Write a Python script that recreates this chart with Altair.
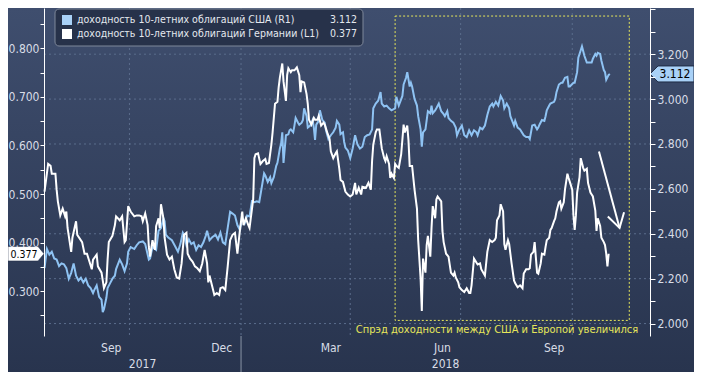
import altair as alt
import pandas as pd

# ---------------- data ----------------
us_name = "доходность 10-летних облигаций США (R1)"
de_name = "доходность 10-летних облигаций Германии (L1)"

us_dates = [
    "2017-07-23", "2017-07-25", "2017-07-27", "2017-07-29", "2017-07-31", "2017-08-02", "2017-08-04", "2017-08-06",
    "2017-08-08", "2017-08-10", "2017-08-12", "2017-08-14", "2017-08-16", "2017-08-18", "2017-08-20", "2017-08-22",
    "2017-08-24", "2017-08-26", "2017-08-28", "2017-08-30", "2017-09-01", "2017-09-02", "2017-09-04", "2017-09-06",
    "2017-09-08", "2017-09-09", "2017-09-10", "2017-09-12", "2017-09-13", "2017-09-15", "2017-09-17", "2017-09-19",
    "2017-09-20", "2017-09-23", "2017-09-25", "2017-09-27", "2017-09-29", "2017-09-30", "2017-10-02", "2017-10-05",
    "2017-10-07", "2017-10-09", "2017-10-12", "2017-10-14", "2017-10-17", "2017-10-18", "2017-10-20", "2017-10-23",
    "2017-10-25", "2017-10-27", "2017-10-29", "2017-10-30", "2017-10-31", "2017-11-02", "2017-11-05", "2017-11-08",
    "2017-11-10", "2017-11-12", "2017-11-14", "2017-11-15", "2017-11-17", "2017-11-19", "2017-11-21", "2017-11-23",
    "2017-11-25", "2017-11-27", "2017-11-29", "2017-12-01", "2017-12-03", "2017-12-04", "2017-12-06", "2017-12-08",
    "2017-12-11", "2017-12-13", "2017-12-15", "2017-12-17", "2017-12-19", "2017-12-21", "2017-12-23", "2017-12-25",
    "2017-12-27", "2017-12-29", "2017-12-31", "2018-01-02", "2018-01-04", "2018-01-06", "2018-01-08", "2018-01-10",
    "2018-01-12", "2018-01-14", "2018-01-16", "2018-01-18", "2018-01-20", "2018-01-21", "2018-01-23", "2018-01-25",
    "2018-01-26", "2018-01-28", "2018-01-30", "2018-01-31", "2018-02-02", "2018-02-03", "2018-02-04", "2018-02-05",
    "2018-02-07", "2018-02-09", "2018-02-10", "2018-02-11", "2018-02-13", "2018-02-14", "2018-02-15", "2018-02-17",
    "2018-02-18", "2018-02-20", "2018-02-21", "2018-02-22", "2018-02-24", "2018-02-25", "2018-02-27", "2018-03-01",
    "2018-03-02", "2018-03-03", "2018-03-04", "2018-03-06", "2018-03-07", "2018-03-09", "2018-03-11", "2018-03-12",
    "2018-03-14", "2018-03-16", "2018-03-18", "2018-03-20", "2018-03-21", "2018-03-23", "2018-03-24", "2018-03-26",
    "2018-03-27", "2018-03-28", "2018-03-30", "2018-04-01", "2018-04-03", "2018-04-05", "2018-04-07", "2018-04-09",
    "2018-04-11", "2018-04-13", "2018-04-15", "2018-04-17", "2018-04-19", "2018-04-20", "2018-04-22", "2018-04-24",
    "2018-04-26", "2018-04-27", "2018-04-29", "2018-05-01", "2018-05-03", "2018-05-05", "2018-05-08", "2018-05-09",
    "2018-05-11", "2018-05-14", "2018-05-15", "2018-05-17", "2018-05-18", "2018-05-20", "2018-05-21", "2018-05-22",
    "2018-05-24", "2018-05-26", "2018-05-27", "2018-05-29", "2018-05-30", "2018-05-31", "2018-06-02", "2018-06-04",
    "2018-06-06", "2018-06-07", "2018-06-08", "2018-06-10", "2018-06-11", "2018-06-13", "2018-06-15", "2018-06-17",
    "2018-06-18", "2018-06-20", "2018-06-21", "2018-06-23", "2018-06-25", "2018-06-27", "2018-06-28", "2018-06-30",
    "2018-07-02", "2018-07-04", "2018-07-06", "2018-07-08", "2018-07-10", "2018-07-12", "2018-07-14", "2018-07-15",
    "2018-07-17", "2018-07-19", "2018-07-21", "2018-07-23", "2018-07-25", "2018-07-27", "2018-07-28", "2018-07-30",
    "2018-08-01", "2018-08-03", "2018-08-05", "2018-08-06", "2018-08-08", "2018-08-10", "2018-08-11", "2018-08-14",
    "2018-08-15", "2018-08-17", "2018-08-19", "2018-08-22", "2018-08-24", "2018-08-26", "2018-08-27", "2018-08-29",
    "2018-08-31", "2018-09-02", "2018-09-03", "2018-09-04", "2018-09-06", "2018-09-08", "2018-09-09", "2018-09-10",
    "2018-09-12", "2018-09-13", "2018-09-16", "2018-09-17", "2018-09-18", "2018-09-20", "2018-09-22", "2018-09-23",
    "2018-09-25", "2018-09-27", "2018-09-28", "2018-09-29", "2018-10-02", "2018-10-03", "2018-10-05", "2018-10-06",
    "2018-10-07", "2018-10-09", "2018-10-10", "2018-10-11", "2018-10-13", "2018-10-15", "2018-10-17", "2018-10-18",
    "2018-10-20", "2018-10-21", "2018-10-22", "2018-10-24", "2018-10-25", "2018-10-27", "2018-10-28", "2018-10-29",
    "2018-10-31", "2018-11-01",
]
us_vals = [
    2.247, 2.332, 2.307, 2.320, 2.290, 2.285, 2.256, 2.268,
    2.264, 2.247, 2.200, 2.226, 2.268, 2.213, 2.192, 2.204,
    2.183, 2.200, 2.170, 2.158, 2.136, 2.149, 2.170, 2.119,
    2.106, 2.051, 2.064, 2.115, 2.158, 2.179, 2.200, 2.213,
    2.243, 2.285, 2.264, 2.234, 2.268, 2.320, 2.341, 2.332,
    2.349, 2.362, 2.366, 2.354, 2.285, 2.290, 2.341, 2.328,
    2.413, 2.426, 2.469, 2.456, 2.396, 2.383, 2.371, 2.341,
    2.320, 2.354, 2.405, 2.396, 2.349, 2.375, 2.354, 2.362,
    2.328, 2.349, 2.341, 2.362, 2.392, 2.413, 2.371, 2.383,
    2.396, 2.375, 2.405, 2.362, 2.354, 2.426, 2.498, 2.490,
    2.481, 2.439, 2.418, 2.469, 2.447, 2.481, 2.477, 2.545,
    2.541, 2.545, 2.541, 2.605, 2.669, 2.660, 2.631, 2.652,
    2.626, 2.652, 2.703, 2.716, 2.780, 2.801, 2.852, 2.716,
    2.839, 2.843, 2.861, 2.865, 2.852, 2.882, 2.916, 2.895,
    2.886, 2.895, 2.907, 2.959, 2.925, 2.873, 2.882, 2.907,
    2.873, 2.818, 2.886, 2.903, 2.950, 2.907, 2.895, 2.861,
    2.822, 2.839, 2.852, 2.873, 2.903, 2.886, 2.844, 2.852,
    2.809, 2.784, 2.771, 2.737, 2.780, 2.839, 2.797, 2.780,
    2.788, 2.831, 2.839, 2.843, 2.865, 2.959, 2.980, 2.993,
    3.031, 2.980, 2.967, 2.971, 2.959, 2.950, 2.959, 3.010,
    2.971, 3.014, 3.065, 3.095, 3.120, 3.056, 3.073, 3.056,
    3.001, 2.971, 2.924, 2.865, 2.788, 2.852, 2.865, 2.946,
    2.937, 2.971, 2.937, 2.950, 2.959, 2.980, 2.946, 2.933,
    2.924, 2.946, 2.916, 2.903, 2.895, 2.873, 2.839, 2.865,
    2.882, 2.839, 2.831, 2.861, 2.839, 2.861, 2.852, 2.839,
    2.873, 2.865, 2.882, 2.929, 2.967, 2.980, 2.967, 2.988,
    2.971, 3.014, 2.993, 2.959, 2.980, 2.959, 2.924, 2.882,
    2.903, 2.873, 2.865, 2.839, 2.831, 2.831, 2.822, 2.882,
    2.886, 2.865, 2.873, 2.886, 2.907, 2.903, 2.924, 2.950,
    2.971, 2.980, 2.988, 3.001, 3.031, 3.065, 3.073, 3.073,
    3.095, 3.099, 3.056, 3.056, 3.073, 3.073, 3.120, 3.184,
    3.201, 3.235, 3.214, 3.193, 3.163, 3.163, 3.163, 3.180,
    3.201, 3.193, 3.206, 3.201, 3.172, 3.129, 3.120, 3.086,
    3.108, 3.112,
]

de_dates = [
    "2017-07-23", "2017-07-26", "2017-07-28", "2017-07-29", "2017-08-01", "2017-08-02", "2017-08-03", "2017-08-05",
    "2017-08-07", "2017-08-09", "2017-08-10", "2017-08-11", "2017-08-14", "2017-08-15", "2017-08-18", "2017-08-19",
    "2017-08-23", "2017-08-25", "2017-08-27", "2017-08-31", "2017-09-01", "2017-09-04", "2017-09-05", "2017-09-08",
    "2017-09-10", "2017-09-12", "2017-09-13", "2017-09-14", "2017-09-17", "2017-09-19", "2017-09-20", "2017-09-23",
    "2017-09-25", "2017-09-27", "2017-09-28", "2017-09-30", "2017-10-02", "2017-10-05", "2017-10-07", "2017-10-09",
    "2017-10-11", "2017-10-12", "2017-10-14", "2017-10-16", "2017-10-17", "2017-10-18", "2017-10-20", "2017-10-22",
    "2017-10-23", "2017-10-25", "2017-10-26", "2017-10-27", "2017-10-29", "2017-10-30", "2017-11-01", "2017-11-03",
    "2017-11-05", "2017-11-07", "2017-11-09", "2017-11-11", "2017-11-13", "2017-11-15", "2017-11-17", "2017-11-18",
    "2017-11-20", "2017-11-22", "2017-11-24", "2017-11-26", "2017-11-28", "2017-11-30", "2017-12-02", "2017-12-04",
    "2017-12-05", "2017-12-06", "2017-12-08", "2017-12-10", "2017-12-12", "2017-12-14", "2017-12-15", "2017-12-17",
    "2017-12-19", "2017-12-21", "2017-12-23", "2017-12-25", "2017-12-27", "2017-12-29", "2017-12-31", "2018-01-02",
    "2018-01-03", "2018-01-05", "2018-01-07", "2018-01-08", "2018-01-11", "2018-01-12", "2018-01-13", "2018-01-15",
    "2018-01-17", "2018-01-19", "2018-01-21", "2018-01-22", "2018-01-24", "2018-01-26", "2018-01-27", "2018-01-29",
    "2018-01-31", "2018-02-01", "2018-02-02", "2018-02-04", "2018-02-05", "2018-02-07", "2018-02-08", "2018-02-09",
    "2018-02-11", "2018-02-12", "2018-02-14", "2018-02-16", "2018-02-18", "2018-02-19", "2018-02-20", "2018-02-22",
    "2018-02-24", "2018-02-25", "2018-02-26", "2018-02-28", "2018-03-02", "2018-03-03", "2018-03-05", "2018-03-06",
    "2018-03-08", "2018-03-10", "2018-03-11", "2018-03-13", "2018-03-15", "2018-03-16", "2018-03-18", "2018-03-20",
    "2018-03-21", "2018-03-23", "2018-03-24", "2018-03-26", "2018-03-28", "2018-03-30", "2018-04-01", "2018-04-03",
    "2018-04-05", "2018-04-06", "2018-04-08", "2018-04-10", "2018-04-11", "2018-04-14", "2018-04-16", "2018-04-18",
    "2018-04-19", "2018-04-20", "2018-04-22", "2018-04-23", "2018-04-25", "2018-04-27", "2018-04-29", "2018-04-30",
    "2018-05-01", "2018-05-03", "2018-05-04", "2018-05-05", "2018-05-07", "2018-05-08", "2018-05-09", "2018-05-11",
    "2018-05-13", "2018-05-15", "2018-05-16", "2018-05-18", "2018-05-19", "2018-05-20", "2018-05-22", "2018-05-24",
    "2018-05-26", "2018-05-27", "2018-05-29", "2018-05-30", "2018-05-31", "2018-06-02", "2018-06-03", "2018-06-04",
    "2018-06-06", "2018-06-07", "2018-06-08", "2018-06-10", "2018-06-11", "2018-06-12", "2018-06-15", "2018-06-16",
    "2018-06-17", "2018-06-19", "2018-06-21", "2018-06-23", "2018-06-25", "2018-06-26", "2018-06-27", "2018-06-29",
    "2018-06-30", "2018-07-02", "2018-07-04", "2018-07-06", "2018-07-08", "2018-07-09", "2018-07-10", "2018-07-12",
    "2018-07-15", "2018-07-17", "2018-07-18", "2018-07-21", "2018-07-23", "2018-07-25", "2018-07-27", "2018-07-29",
    "2018-07-30", "2018-07-31", "2018-08-02", "2018-08-03", "2018-08-05", "2018-08-06", "2018-08-07", "2018-08-09",
    "2018-08-10", "2018-08-12", "2018-08-14", "2018-08-15", "2018-08-17", "2018-08-19", "2018-08-21", "2018-08-22",
    "2018-08-24", "2018-08-26", "2018-08-27", "2018-08-28", "2018-08-30", "2018-08-31", "2018-09-02", "2018-09-03",
    "2018-09-05", "2018-09-06", "2018-09-08", "2018-09-09", "2018-09-10", "2018-09-12", "2018-09-13", "2018-09-14",
    "2018-09-16", "2018-09-17", "2018-09-18", "2018-09-20", "2018-09-21", "2018-09-22", "2018-09-24", "2018-09-25",
    "2018-09-27", "2018-09-28", "2018-09-29", "2018-10-01", "2018-10-02", "2018-10-03", "2018-10-04", "2018-10-05",
    "2018-10-07", "2018-10-08", "2018-10-10", "2018-10-11", "2018-10-13", "2018-10-14", "2018-10-16", "2018-10-17",
    "2018-10-18", "2018-10-20", "2018-10-21", "2018-10-22", "2018-10-24", "2018-10-25", "2018-10-27", "2018-10-28",
    "2018-10-29", "2018-10-30", "2018-10-31",
]
de_vals = [
    0.505, 0.562, 0.558, 0.542, 0.542, 0.509, 0.485, 0.456,
    0.470, 0.454, 0.464, 0.430, 0.381, 0.410, 0.444, 0.416,
    0.401, 0.377, 0.377, 0.345, 0.365, 0.375, 0.351, 0.338,
    0.306, 0.318, 0.365, 0.401, 0.414, 0.436, 0.454, 0.446,
    0.454, 0.401, 0.405, 0.475, 0.464, 0.454, 0.456, 0.456,
    0.454, 0.444, 0.460, 0.436, 0.391, 0.371, 0.405, 0.385,
    0.434, 0.450, 0.430, 0.479, 0.450, 0.410, 0.375, 0.365,
    0.371, 0.345, 0.328, 0.326, 0.357, 0.416, 0.420, 0.377,
    0.367, 0.361, 0.351, 0.347, 0.341, 0.357, 0.385, 0.357,
    0.318, 0.332, 0.312, 0.292, 0.296, 0.292, 0.306, 0.308,
    0.302, 0.351, 0.405, 0.416, 0.420, 0.377, 0.424, 0.464,
    0.436, 0.450, 0.436, 0.430, 0.489, 0.574, 0.582, 0.584,
    0.562, 0.568, 0.572, 0.562, 0.564, 0.602, 0.627, 0.686,
    0.690, 0.720, 0.740, 0.769, 0.732, 0.692, 0.745, 0.759,
    0.751, 0.755, 0.755, 0.761, 0.745, 0.710, 0.732, 0.730,
    0.706, 0.686, 0.653, 0.643, 0.657, 0.653, 0.653, 0.661,
    0.641, 0.647, 0.643, 0.627, 0.613, 0.588, 0.574, 0.584,
    0.588, 0.552, 0.529, 0.525, 0.505, 0.499, 0.495, 0.499,
    0.523, 0.499, 0.513, 0.499, 0.515, 0.513, 0.523, 0.509,
    0.568, 0.602, 0.627, 0.633, 0.633, 0.594, 0.574, 0.568,
    0.578, 0.562, 0.533, 0.542, 0.533, 0.562, 0.558, 0.554,
    0.582, 0.643, 0.627, 0.641, 0.611, 0.558, 0.558, 0.509,
    0.470, 0.405, 0.326, 0.259, 0.367, 0.338, 0.395, 0.414,
    0.371, 0.430, 0.475, 0.450, 0.489, 0.495, 0.485, 0.424,
    0.401, 0.377, 0.371, 0.338, 0.332, 0.338, 0.328, 0.318,
    0.308, 0.302, 0.298, 0.306, 0.296, 0.296, 0.312, 0.367,
    0.355, 0.357, 0.345, 0.332, 0.381, 0.405, 0.401, 0.405,
    0.410, 0.446, 0.456, 0.479, 0.464, 0.397, 0.385, 0.405,
    0.397, 0.357, 0.322, 0.316, 0.308, 0.312, 0.306, 0.336,
    0.345, 0.345, 0.347, 0.375, 0.381, 0.401, 0.338, 0.336,
    0.357, 0.377, 0.375, 0.391, 0.405, 0.410, 0.426, 0.430,
    0.444, 0.450, 0.464, 0.483, 0.485, 0.470, 0.483, 0.509,
    0.542, 0.533, 0.525, 0.509, 0.456, 0.426, 0.456, 0.503,
    0.535, 0.574, 0.554, 0.548, 0.552, 0.523, 0.503, 0.499,
    0.495, 0.466, 0.424, 0.450, 0.434, 0.410, 0.401, 0.395,
    0.377, 0.351, 0.377,
]

month_tick_dates = [
    "2017-08-01", "2017-09-01", "2017-10-01", "2017-11-01", "2017-12-01", "2018-01-01",
    "2018-02-01", "2018-03-01", "2018-04-01", "2018-05-01", "2018-06-01", "2018-07-01",
    "2018-08-01", "2018-09-01", "2018-10-01", "2018-11-01", "2018-12-01",
]
quarter_dates = ["2017-10-01", "2018-01-01", "2018-04-01", "2018-07-01", "2018-10-01"]
month_labels = ["Sep", "Dec", "Mar", "Jun", "Sep"]
month_label_dates = ["2017-09-16", "2017-12-16", "2018-03-16", "2018-06-16", "2018-09-16"]
year_labels = ["2017", "2018"]
year_break = "2018-01-01"

de_ticks = [0.25, 0.30, 0.35, 0.40, 0.45, 0.50, 0.55, 0.60, 0.65, 0.70, 0.75, 0.80, 0.85]
us_ticks = [2.0, 2.1, 2.2, 2.3, 2.4, 2.5, 2.6, 2.7, 2.8, 2.9, 3.0, 3.1, 3.2, 3.3, 3.4]
us_grid = [2.0, 2.2, 2.4, 2.6, 2.8, 3.0, 3.2]

note_text = "Спрэд доходности между США и Европой увеличился"
note_date = "2018-07-31"
note_us = 1.972
box_dates = ["2018-05-08", "2018-11-17"]
box_us = [2.014, 3.37]
arrow_dates = ["2018-10-23", "2018-11-09"]
arrow_us = [2.767, 2.426]

X_START = "2017-07-22T14:00:00"
X_END = "2018-12-04T02:00:00"
DE_DOMAIN = [0.2075, 0.8833]
US_DOMAIN = [1.9446, 3.4058]

# ---------------- style ----------------
W, H = 606, 328
PAD = {"left": 36, "right": 44, "top": 0, "bottom": 36}
US_COLOR = "#8fc3f3"
DE_COLOR = "#ffffff"
LBL = "#d8dde6"
GRID = "#5b6d8c"
YELLOW = "#e6e65a"
AX_FONT = "DejaVu Sans Condensed"
NARROW = "DejaVu Sans Condensed"


def dt(s):
    t = pd.Timestamp(s)
    return alt.DateTime(year=t.year, month=t.month, date=t.day,
                        hours=t.hour, minutes=t.minute, utc=True)


def iso(t):
    return pd.Timestamp(t).strftime("%Y-%m-%dT%H:%M:%SZ")


xs = alt.Scale(type="utc", domain=[dt(X_START), dt(X_END)])
ys_de = alt.Scale(domain=DE_DOMAIN, zero=False, nice=False)
ys_us = alt.Scale(domain=US_DOMAIN, zero=False, nice=False)

one = pd.DataFrame({"k": [0]})

bg = alt.Chart(one).mark_rect(
    fill=alt.Gradient(gradient="linear",
                      stops=[alt.GradientStop(color="#3f4e6e", offset=0),
                             alt.GradientStop(color="#28344e", offset=1)],
                      x1=0, x2=0, y1=0, y2=1)
).encode(x=alt.value(-PAD["left"]), x2=alt.value(W + PAD["right"]),
         y=alt.value(0), y2=alt.value(H + PAD["bottom"]))

vgrid = alt.Chart(pd.DataFrame({"date": quarter_dates})).mark_rule(
    color=GRID, strokeDash=[2, 3], strokeWidth=1
).encode(x=alt.X("date:T", scale=xs, axis=None), y=alt.value(0), y2=alt.value(H))

hgrid = alt.Chart(pd.DataFrame({"v": us_grid})).mark_rule(
    color=GRID, strokeDash=[2, 3], strokeWidth=1
).encode(y=alt.Y("v:Q", scale=ys_us, axis=None), x=alt.value(0), x2=alt.value(W))

box = alt.Chart(pd.DataFrame({"d1": [box_dates[0]], "d2": [box_dates[1]],
                              "v1": [box_us[0]], "v2": [box_us[1]]})).mark_rect(
    fill="#000000", fillOpacity=0, stroke=YELLOW, strokeDash=[2, 2], strokeWidth=1
).encode(x=alt.X("d1:T", scale=xs, axis=None), x2="d2:T",
         y=alt.Y("v1:Q", scale=ys_us, axis=None), y2="v2:Q")

us_df = pd.DataFrame({"date": us_dates, "value": us_vals})
de_df = pd.DataFrame({"date": de_dates, "value": de_vals})

us_axis = alt.Axis(orient="right", values=us_ticks,
                   labelExpr="abs(datum.value*5 - round(datum.value*5)) < 0.01 && datum.value < 3.3 ? format(datum.value, '.3f') : ''",
                   tickSize=5, tickColor="#ffffff", domainColor="#ffffff", domainWidth=1,
                   labelColor=LBL, labelFont=AX_FONT, labelFontSize=12, labelPadding=2,
                   grid=False, title=None, labelOverlap=False, zindex=1)
de_axis = alt.Axis(orient="left", values=de_ticks,
                   labelExpr="abs(datum.value*10 - round(datum.value*10)) < 0.01 ? format(datum.value, '.3f') : ''",
                   tickSize=4, tickColor="#ffffff", domainColor="#ffffff", domainWidth=1,
                   labelColor=LBL, labelFont=AX_FONT, labelFontSize=12, labelPadding=1,
                   grid=False, title=None, labelOverlap=False, zindex=1)
x_axis = alt.Axis(values=[dt(d) for d in month_tick_dates], labels=False, tickSize=4,
                  tickColor="#ffffff", domainColor="#ffffff", domainWidth=1,
                  grid=False, title=None, zindex=1)

us_line = alt.Chart(us_df).mark_line(color=US_COLOR, strokeWidth=2).encode(
    x=alt.X("date:T", scale=xs, axis=None),
    y=alt.Y("value:Q", scale=ys_us, axis=us_axis))

de_line = alt.Chart(de_df).mark_line(color=DE_COLOR, strokeWidth=2).encode(
    x=alt.X("date:T", scale=xs, axis=x_axis),
    y=alt.Y("value:Q", scale=ys_de, axis=de_axis))

arrow_df = pd.DataFrame({"d1": [arrow_dates[0]], "d2": [arrow_dates[1]],
                         "v1": [arrow_us[0]], "v2": [arrow_us[1]]})
arrow_shaft = alt.Chart(arrow_df).mark_rule(color="#ffffff", strokeWidth=2).encode(
    x=alt.X("d1:T", scale=xs, axis=None), x2="d2:T",
    y=alt.Y("v1:Q", scale=ys_us, axis=None), y2="v2:Q")
arrow_head = alt.Chart(arrow_df).mark_point(
    shape="M-1,-0.6L0,0L-1,0.6", size=784, filled=False, color="#ffffff",
    strokeWidth=2, angle=75, opacity=1
).encode(x=alt.X("d2:T", scale=xs, axis=None), y=alt.Y("v2:Q", scale=ys_us, axis=None))

note = alt.Chart(pd.DataFrame({"date": [note_date], "v": [note_us], "txt": [note_text]})).mark_text(
    font=NARROW, fontSize=11, color=YELLOW, align="center", baseline="middle"
).encode(x=alt.X("date:T", scale=xs, axis=None), y=alt.Y("v:Q", scale=ys_us, axis=None), text="txt:N")

# last-value tags
us_last = pd.DataFrame({"value": [us_vals[-1]], "txt": [f"{us_vals[-1]:.3f}"]})
de_last = pd.DataFrame({"value": [de_vals[-1]], "txt": [f"{de_vals[-1]:.3f}"]})
us_tag = alt.Chart(us_last).mark_point(
    shape="M-1,0L-0.636,-0.364L1,-0.364L1,0.364L-0.636,0.364Z", size=44 * 44,
    filled=True, fill="#a9d1f7", stroke="#1e2b44", strokeWidth=1, opacity=1
).encode(x=alt.value(W + 22), y=alt.Y("value:Q", scale=ys_us, axis=None))
us_tag_txt = alt.Chart(us_last).mark_text(
    font=AX_FONT, fontSize=12, color="#000000", align="center", baseline="middle"
).encode(x=alt.value(W + 25), y=alt.Y("value:Q", scale=ys_us, axis=None), text="txt:N")
de_tag = alt.Chart(de_last).mark_point(
    shape="M-1,-0.4L0.667,-0.4L1,0L0.667,0.4L-1,0.4Z", size=36 * 36,
    filled=True, fill="#ffffff", stroke="#1e2b44", strokeWidth=0.5, opacity=1
).encode(x=alt.value(-18), y=alt.Y("value:Q", scale=ys_de, axis=None))
de_tag_txt = alt.Chart(de_last).mark_text(
    font=AX_FONT, fontSize=10.5, color="#000000", align="center", baseline="middle", dy=1
).encode(x=alt.value(-20), y=alt.Y("value:Q", scale=ys_de, axis=None), text="txt:N")

# legend
legend_layers = [
    alt.Chart(one).mark_rect(fill="#27324a", stroke="#7f889a", strokeWidth=1, cornerRadius=4).encode(
        x=alt.value(11), x2=alt.value(319), y=alt.value(1), y2=alt.value(38))
]
for i, (name, col, val) in enumerate([(us_name, "#a9d1f7", us_vals[-1]), (de_name, "#ffffff", de_vals[-1])]):
    ry = 12 + 14 * i
    row = pd.DataFrame({"name": [name], "val": [f"{val:.3f}"]})
    legend_layers.append(alt.Chart(row).mark_square(size=100, color=col, opacity=1, filled=True).encode(
        x=alt.value(23), y=alt.value(ry)))
    legend_layers.append(alt.Chart(row).mark_text(
        font=AX_FONT, fontSize=10.5, color="#e4e8ee", align="left", baseline="middle"
    ).encode(x=alt.value(33), y=alt.value(ry), text="name:N"))
    legend_layers.append(alt.Chart(row).mark_text(
        font=AX_FONT, fontSize=10.5, color="#e4e8ee", align="right", baseline="middle"
    ).encode(x=alt.value(313), y=alt.value(ry), text="val:N"))

# time axis labels
month_lbls = alt.Chart(pd.DataFrame({"date": month_label_dates, "txt": month_labels})).mark_text(
    font=NARROW, fontSize=12, color=LBL, align="center", baseline="middle"
).encode(x=alt.X("date:T", scale=xs, axis=None), y=alt.value(H + 12), text="txt:N")

x0, x1, yb = pd.Timestamp(X_START), pd.Timestamp(X_END), pd.Timestamp(year_break)
year_centers = [iso(x0 + (yb - x0) / 2), iso(yb + (x1 - yb) / 2)]
year_lbls = alt.Chart(pd.DataFrame({"date": year_centers, "txt": year_labels})).mark_text(
    font=NARROW, fontSize=12, color=LBL, align="center", baseline="middle"
).encode(x=alt.X("date:T", scale=xs, axis=None), y=alt.value(H + 28), text="txt:N")
year_sep = alt.Chart(pd.DataFrame({"date": [year_break]})).mark_rule(color="#8a94a6", strokeWidth=1).encode(
    x=alt.X("date:T", scale=xs, axis=None), y=alt.value(H), y2=alt.value(H + PAD["bottom"]))

chart = alt.layer(
    bg, vgrid, hgrid, box, us_line, de_line, arrow_shaft, arrow_head, note,
    us_tag, us_tag_txt, de_tag, de_tag_txt, *legend_layers, month_lbls, year_lbls, year_sep
).resolve_scale(y="independent").properties(
    width=W, height=H, padding=PAD, autosize=alt.AutoSizeParams(type="none"),
    background="#28344e"
).configure_view(stroke=None)

chart.save("out.html", embed_options={"renderer": "svg", "actions": False})
